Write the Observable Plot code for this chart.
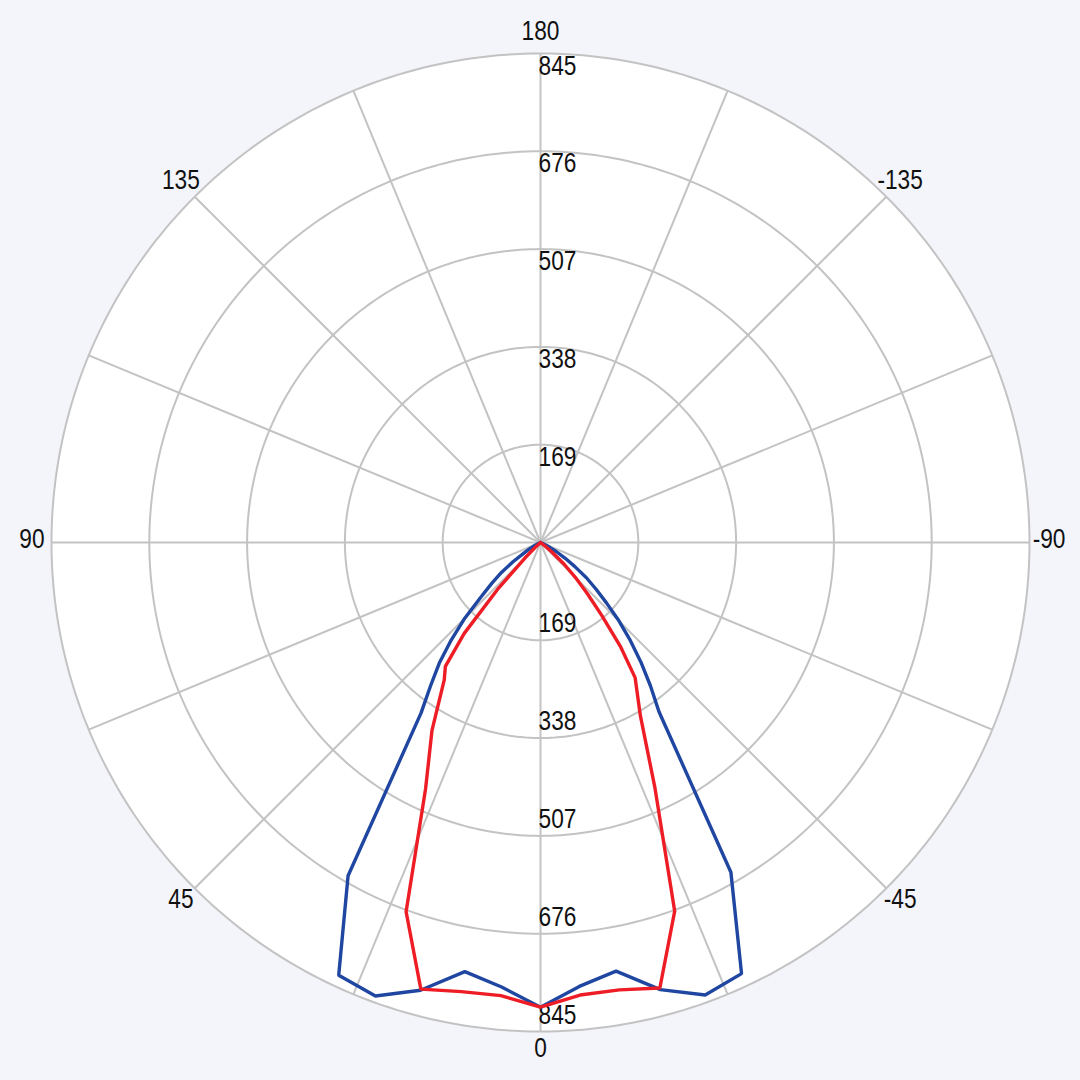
<!DOCTYPE html>
<html><head><meta charset="utf-8">
<script src="https://cdn.jsdelivr.net/npm/d3@7"></script>
<script src="https://cdn.jsdelivr.net/npm/@observablehq/plot@0.6"></script>
<style>
html,body{margin:0;padding:0;background:#f4f5fb;}
#chart svg{display:block;}
</style></head><body><div id="chart"></div>
<script>
// Angles (degrees, 0 = down, positive = to the left)
const angles = [-90,-85,-80,-75,-70,-67.5,-65,-62.5,-60,-57.5,-55,-52.5,-50,-47.5,-45,-42.5,-40,-37.5,-35,-30,-25,-20,-15,-10,-5,0,5,10,15,20,25,30,35,37.5,40,42.5,45,47.5,50,52.5,55,57.5,60,62.5,65,67.5,70,75,80,85,90];
const blueValues = [0,0,0,0,0, 2,8,18,32,50,72,100,125,155,192,230,270,312,357, 658,822,832,800,752,770, 803, 771,753,801,834,825,665, 360,312,272,228,185,140,110,85,58,34,22,12,5,1, 0,0,0,0,0];
const redValues  = [0,0,0,0,0, 0,0,0,0,0,0,8,25,55,85,120,165,228,285, 345,468,678,797,785,785, 803, 786,788,799,679,470,375, 290,270,205,110,38,10,0,0,0,0,0,0,0,0, 0,0,0,0,0];
const ringValues = [169,338,507,676,845];
const ringLabels = ["169","338","507","676","845"];
const angleTicks = [180,135,90,45,0,-45,-90,-135];
const angleTickLabels = ["180","135","90","45","0","-45","-90","-135"];
const spokeAngles = [0,22.5,45,67.5,90,112.5,135,157.5,180,202.5,225,247.5,270,292.5,315,337.5];
const rMax = 845;

const rad = a => a * Math.PI / 180;
const px = (r, a) => -r * Math.sin(rad(a));
const py = (r, a) => -r * Math.cos(rad(a));

const blue = angles.map((a, i) => ({a, r: blueValues[i]}));
const red = angles.map((a, i) => ({a, r: redValues[i]}));
const circleAngles = d3.range(0, 361, 1);
const rings = ringValues.flatMap(v => circleAngles.map(a => ({ring: v, a, r: v})));
const outer = circleAngles.map(a => ({a, r: rMax}));
const spokes = spokeAngles.map(a => ({a}));
const ringText = ringValues.map((v, i) => ({r: v, label: ringLabels[i]}));
const angleText = angleTicks.map((a, i) => ({a, label: angleTickLabels[i]}));

const font = "'Liberation Sans', Arial, sans-serif";
const sc = 489 / 845;
const labelR = rMax * 1.04;

const chart = Plot.plot({
  width: 1080,
  height: 1080,
  margin: 0,
  style: {background: "transparent"},
  x: {domain: [-540 / sc, 540 / sc], axis: null},
  y: {domain: [-538 / sc, 542 / sc], axis: null},
  marks: [
    Plot.line(outer, {x: d => px(d.r, d.a), y: d => py(d.r, d.a), fill: "white", stroke: "none"}),
    Plot.link(spokes, {x1: 0, y1: 0, x2: d => px(rMax, d.a), y2: d => py(rMax, d.a), stroke: "#c3c3c3", strokeWidth: 2}),
    Plot.line(rings, {x: d => px(d.r, d.a), y: d => py(d.r, d.a), z: "ring", stroke: "#c3c3c3", strokeWidth: 2}),
    Plot.text(ringText, {x: 0, y: d => d.r, text: "label", textAnchor: "start", lineAnchor: "top", dx: -2, dy: 2, fontSize: 27, fontFamily: font, fill: "#111"}),
    Plot.text(ringText, {x: 0, y: d => -d.r, text: "label", textAnchor: "start", lineAnchor: "bottom", dx: -2, dy: -8, fontSize: 27, fontFamily: font, fill: "#111"}),
    Plot.text(angleText, {x: d => px(labelR, d.a), y: d => py(labelR, d.a), text: "label", textAnchor: "middle", lineAnchor: "middle", dy: -3, fontSize: 27, fontFamily: font, fill: "#111"}),
    Plot.line(blue, {x: d => px(d.r, d.a), y: d => py(d.r, d.a), stroke: "#1f46a0", strokeWidth: 3.4, strokeLinejoin: "miter"}),
    Plot.line(red, {x: d => px(d.r, d.a), y: d => py(d.r, d.a), stroke: "#ee1c24", strokeWidth: 3.4, strokeLinejoin: "miter"})
  ]
});
document.getElementById("chart").appendChild(chart);
// narrow the glyphs to match the condensed typeface of the reference
chart.querySelectorAll("text").forEach(t => {
  const L = t.getComputedTextLength();
  if (L > 0) {
    t.setAttribute("textLength", (L * 0.84).toFixed(1));
    t.setAttribute("lengthAdjust", "spacingAndGlyphs");
  }
});
</script>
</body></html>
